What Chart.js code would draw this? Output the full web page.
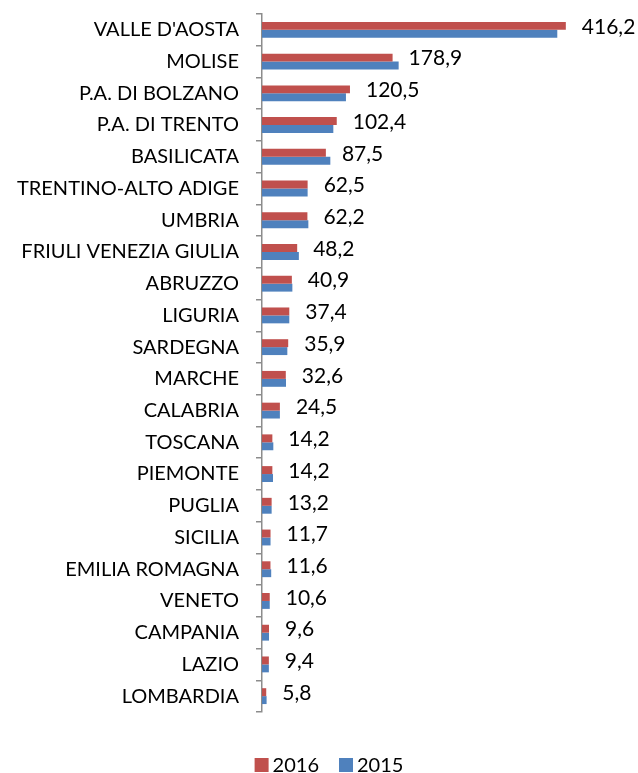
<!DOCTYPE html>
<html>
<head>
<meta charset="utf-8">
<script src="https://cdn.jsdelivr.net/npm/chart.js@4/dist/chart.umd.min.js"></script>
<style>
  html, body { margin: 0; padding: 0; background: #fff; }
  #wrap { width: 638px; height: 773px; }
</style>
</head>
<body>
<div id="wrap"><canvas id="chart"></canvas></div>
<script>
/* ================= DATA ================= */
const regions = [
  "VALLE D'AOSTA", "MOLISE", "P.A. DI BOLZANO", "P.A. DI TRENTO", "BASILICATA",
  "TRENTINO-ALTO ADIGE", "UMBRIA", "FRIULI VENEZIA GIULIA", "ABRUZZO", "LIGURIA",
  "SARDEGNA", "MARCHE", "CALABRIA", "TOSCANA", "PIEMONTE", "PUGLIA", "SICILIA",
  "EMILIA ROMAGNA", "VENETO", "CAMPANIA", "LAZIO", "LOMBARDIA"
];
const values2016 = [
  416.2, 178.9, 120.5, 102.4, 87.5, 62.5, 62.2, 48.2, 40.9, 37.4, 35.9,
  32.6, 24.5, 14.2, 14.2, 13.2, 11.7, 11.6, 10.6, 9.6, 9.4, 5.8
];
const values2015 = [
  404.5, 187.2, 115.0, 97.7, 93.6, 62.5, 63.5, 50.5, 41.6, 37.4, 34.7,
  32.9, 24.5, 15.5, 15.1, 13.2, 11.7, 12.6, 10.6, 9.6, 9.4, 6.3
];

const FONT = "Lato, 'Open Sans', sans-serif";

/* ================= VALUE LABELS (2016 only) ================= */
const valueLabels = {
  id: "valueLabels",
  afterDatasetsDraw(chart) {
    const ctx = chart.ctx;
    const meta = chart.getDatasetMeta(0);
    const yScale = chart.scales.y;
    ctx.save();
    ctx.font = "21px " + FONT;
    ctx.fillStyle = "#000";
    ctx.textBaseline = "middle";
    ctx.textAlign = "left";
    meta.data.forEach((bar, i) => {
      const txt = values2016[i].toFixed(1).replace(".", ",");
      ctx.fillText(txt, bar.x + 16, yScale.getPixelForValue(i) - 3);
    });
    ctx.restore();
  }
};

/* ================= LEGEND (bottom, Excel-like spacing) ================= */
const bottomLegend = {
  id: "bottomLegend",
  afterDraw(chart) {
    const ctx = chart.ctx;
    const sets = chart.data.datasets;
    const box = 14, gap = 4, itemGap = 20, cy = 765;
    ctx.save();
    ctx.font = "20px " + FONT;
    ctx.textBaseline = "middle";
    ctx.textAlign = "left";
    const widths = sets.map(d => box + gap + ctx.measureText(d.label).width);
    const total = widths.reduce((a, b) => a + b, 0) + itemGap * (sets.length - 1);
    let x = 329 - total / 2;
    sets.forEach((d, i) => {
      ctx.fillStyle = d.backgroundColor;
      ctx.fillRect(x, cy - box / 2, box, box);
      ctx.fillStyle = "#000";
      ctx.fillText(d.label, x + box + gap, cy + 1);
      x += widths[i] + itemGap;
    });
    ctx.restore();
  }
};

/* ================= CHART ================= */
new Chart(document.getElementById("chart"), {
  type: "bar",
  data: {
    labels: regions,
    datasets: [
      { label: "2016", data: values2016, backgroundColor: "#C0504D" },
      { label: "2015", data: values2015, backgroundColor: "#4F81BD" }
    ]
  },
  options: {
    indexAxis: "y",
    responsive: true,
    maintainAspectRatio: false,
    animation: false,
    layout: { padding: { top: 14, right: 11, bottom: 61, left: 0 } },
    datasets: {
      bar: { barPercentage: 1, categoryPercentage: 0.5 }
    },
    scales: {
      x: {
        display: false,
        min: 0,
        max: 500
      },
      y: {
        afterFit(scale) {
          scale.width = 262;
          scale.paddingTop = 0;
          scale.paddingBottom = 0;
        },
        grid: {
          offset: true,
          drawOnChartArea: false,
          tickLength: 6,
          color: "#8c8c8c",
          lineWidth: 1.5
        },
        border: { display: true, color: "#8c8c8c", width: 1.5 },
        ticks: {
          color: "#000",
          padding: 17,
          font: { size: 20, family: FONT }
        }
      }
    },
    plugins: {
      legend: { display: false },
      tooltip: { enabled: false }
    }
  },
  plugins: [valueLabels, bottomLegend]
});
</script>
</body>
</html>
